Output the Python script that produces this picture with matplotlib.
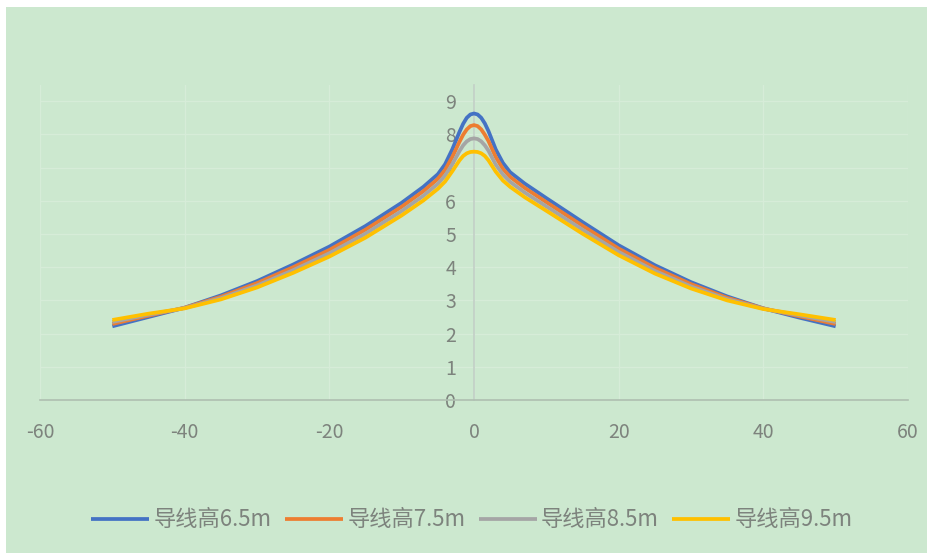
import matplotlib
matplotlib.use('Agg')
import matplotlib.pyplot as plt
from matplotlib.patches import Rectangle

plt.rcParams['font.family'] = ['Noto Sans CJK SC', 'DejaVu Sans']
plt.rcParams['axes.unicode_minus'] = False

# distance from line centre (m)
X_POS = [-50, -45, -40, -35, -30, -25, -20, -15, -10, -7, -5, -4, -3, -2, -1.5, -1, -0.5, 0,
         0.5, 1, 1.5, 2, 3, 4, 5, 7, 10, 15, 20, 25, 30, 35, 40, 45, 50]

# field strength for each conductor height
H65 = [2.22, 2.50, 2.78, 3.15, 3.58, 4.08, 4.62, 5.24, 5.94, 6.42, 6.80, 7.10, 7.55, 8.08, 8.32, 8.50, 8.60, 8.63,
       8.60, 8.50, 8.33, 8.10, 7.55, 7.14, 6.86, 6.52, 6.08, 5.36, 4.66, 4.06, 3.55, 3.12, 2.76, 2.48, 2.22]
H75 = [2.29, 2.54, 2.78, 3.11, 3.52, 4.00, 4.52, 5.13, 5.82, 6.29, 6.66, 6.93, 7.32, 7.78, 7.99, 8.15, 8.25, 8.28,
       8.25, 8.15, 7.99, 7.80, 7.32, 6.96, 6.72, 6.39, 5.96, 5.25, 4.56, 3.98, 3.49, 3.08, 2.76, 2.52, 2.29]
H85 = [2.35, 2.57, 2.77, 3.07, 3.45, 3.91, 4.42, 5.01, 5.69, 6.15, 6.51, 6.76, 7.10, 7.50, 7.67, 7.79, 7.86, 7.88,
       7.86, 7.79, 7.67, 7.51, 7.09, 6.79, 6.57, 6.25, 5.83, 5.13, 4.46, 3.89, 3.42, 3.04, 2.75, 2.55, 2.35]
H95 = [2.41, 2.60, 2.76, 3.03, 3.39, 3.83, 4.32, 4.89, 5.56, 6.01, 6.36, 6.58, 6.89, 7.22, 7.35, 7.43, 7.47, 7.48,
       7.47, 7.43, 7.35, 7.22, 6.88, 6.61, 6.42, 6.11, 5.70, 5.01, 4.36, 3.81, 3.36, 3.00, 2.74, 2.58, 2.41]

SERIES = [(H65, '导线高6.5m', '#4472C4'),
          (H75, '导线高7.5m', '#ED7D31'),
          (H85, '导线高8.5m', '#A5A5A5'),
          (H95, '导线高9.5m', '#FFC000')]

X_TICKS = [-60, -40, -20, 0, 20, 40, 60]
Y_TICKS = list(range(10))

BG = '#cce8cf'
TEXT = '#7d837d'

fig = plt.figure(figsize=(9.28, 5.53), dpi=100)
fig.patch.set_facecolor(BG)
# white margin along the top and left edges
fig.patches.append(Rectangle((0, 1 - 7 / 553), 1, 7 / 553, transform=fig.transFigure,
                             facecolor='white', edgecolor='none'))
fig.patches.append(Rectangle((0, 0), 6 / 928, 1, transform=fig.transFigure,
                             facecolor='white', edgecolor='none'))

ax = fig.add_axes([40 / 928, 1 - 400 / 553, 868 / 928, 315.4 / 553])
ax.set_facecolor('none')

for values, label, color in SERIES:
    ax.plot(X_POS, values, color=color, linewidth=2.7, label=label,
            solid_joinstyle='round', solid_capstyle='butt', zorder=3)

ax.set_xlim(-60, 60)
ax.set_ylim(0, 9.5)
ax.set_xticks(X_TICKS)
ax.set_yticks(Y_TICKS)
ax.set_yticklabels([str(v) for v in Y_TICKS])

ax.grid(True, color='#d6ecd8', linewidth=1.0, zorder=1)

for side in ('top', 'right'):
    ax.spines[side].set_visible(False)
ax.spines['left'].set_position(('data', 0))
ax.spines['left'].set_color('#c2cfc6')
ax.spines['left'].set_linewidth(1.2)
ax.spines['bottom'].set_color('#aebfb0')
ax.spines['bottom'].set_linewidth(1.2)

ax.tick_params(axis='x', length=0, pad=16, labelsize=14, labelcolor=TEXT)
ax.tick_params(axis='y', length=0, pad=13, labelsize=14, labelcolor=TEXT)

ax.legend(loc='center', bbox_to_anchor=(472 / 928, 1 - 520 / 553),
          bbox_transform=fig.transFigure, ncol=4, frameon=False,
          fontsize=16, handlelength=2.6, handletextpad=0.2, columnspacing=0.6,
          labelcolor=TEXT)

fig.savefig('out.png', dpi=100, facecolor=BG)
